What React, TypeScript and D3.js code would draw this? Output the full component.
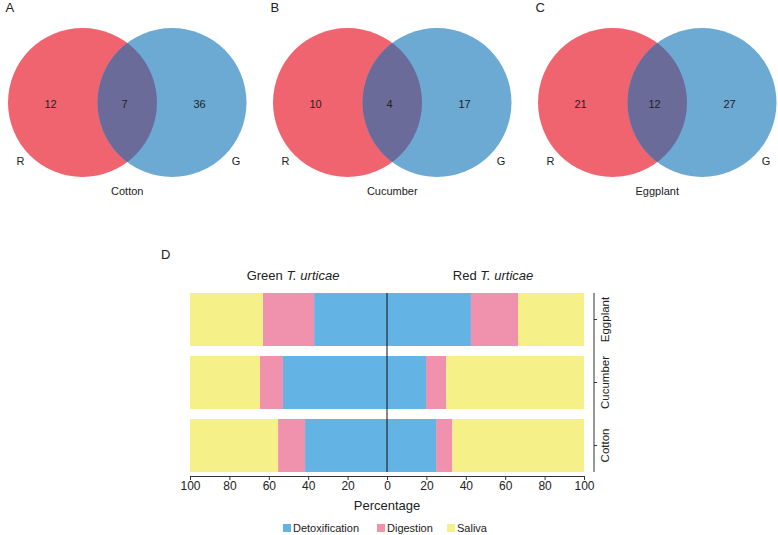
import * as d3 from "d3";
import { useRef, useEffect } from "react";

// Venn panels A-C
const plants = ["Cotton", "Cucumber", "Eggplant"];
const panelLetters = ["A", "B", "C"];
const redOnly = [12, 10, 21];
const shared = [7, 4, 12];
const greenOnly = [36, 17, 27];

// Panel D: percentage of genes in each category
const rows = ["Eggplant", "Cucumber", "Cotton"];
const categories = ["Detoxification", "Digestion", "Saliva"];
const greenPct = {
  Eggplant: [37, 26, 37],
  Cucumber: [52.8, 11.7, 35.5],
  Cotton: [41.6, 13.7, 44.7],
};
const redPct = {
  Eggplant: [42.6, 23.9, 33.5],
  Cucumber: [19.8, 10.2, 70],
  Cotton: [24.9, 8.3, 66.8],
};
const tickValues = [-100, -80, -60, -40, -20, 0, 20, 40, 60, 80, 100];

const catColor = d3.scaleOrdinal(categories, ["#63b3e4", "#f092ae", "#f5f087"]);
const font = "Liberation Sans, Arial, sans-serif";

function Venn({ i }) {
  const ox = d3.scaleLinear([0, 2], [82.5, 612.5])(i);
  const cy = 102.5;
  const r = 74.5;
  const bx = ox + 89.5;
  return (
    <g fontFamily={font} fill="#222">
      <defs>
        <clipPath id={"clipR" + i}>
          <circle cx={ox} cy={cy} r={r} />
        </clipPath>
      </defs>
      <circle cx={ox} cy={cy} r={r} fill="#f0646f" />
      <circle cx={bx} cy={cy} r={r} fill="#6caad3" />
      <circle cx={bx} cy={cy} r={r} fill="#6b6b99" clipPath={`url(#clipR${i})`} />
      <text x={ox - 77} y={12} fontSize={13}>{panelLetters[i]}</text>
      <g fontSize={11} textAnchor="middle" dominantBaseline="central">
        <text x={ox - 32} y={104}>{redOnly[i]}</text>
        <text x={ox + 42} y={104}>{shared[i]}</text>
        <text x={ox + 117} y={104}>{greenOnly[i]}</text>
        <text x={ox - 62} y={161}>R</text>
        <text x={bx + 64} y={161}>G</text>
        <text x={ox + 44.75} y={191}>{plants[i]}</text>
      </g>
    </g>
  );
}

export default function App() {
  const gx = useRef(null);
  const x = d3.scaleLinear([-100, 100], [190, 584]);
  const y = d3.scaleBand(rows, [288, 477]).paddingInner(0.159).paddingOuter(0.08);

  useEffect(() => {
    const g = d3.select(gx.current);
    g.call(d3.axisBottom(x).tickValues(tickValues).tickFormat((d) => String(Math.abs(d))).tickSize(4));
    g.select(".domain").attr("stroke", "#333");
    g.selectAll(".tick line").attr("stroke", "#333");
    g.selectAll(".tick text").attr("font-size", 12).attr("font-family", font).attr("fill", "#222").attr("dy", "0.55em");
  }, []);

  const segs = [];
  rows.forEach((row) => {
    let acc = 0;
    greenPct[row].forEach((v, k) => {
      segs.push({ key: "g" + row + k, x0: x(-(acc + v)), x1: x(-acc), row, cat: categories[k] });
      acc += v;
    });
    acc = 0;
    redPct[row].forEach((v, k) => {
      segs.push({ key: "r" + row + k, x0: x(acc), x1: x(acc + v), row, cat: categories[k] });
      acc += v;
    });
  });

  const legendX = [283, 377, 447];

  return (
    <svg width={778} height={535} style={{ position: "absolute", left: 0, top: 0 }}>
      <rect width={778} height={535} fill="#fff" />
      {plants.map((p, i) => (
        <Venn key={p} i={i} />
      ))}
      <g fontFamily={font} fill="#222">
        <text x={161} y={259} fontSize={13}>D</text>
        <text x={293} y={280} fontSize={13} textAnchor="middle">
          Green <tspan fontStyle="italic">T. urticae</tspan>
        </text>
        <text x={493} y={280} fontSize={13} textAnchor="middle">
          Red <tspan fontStyle="italic">T. urticae</tspan>
        </text>
        {segs.map((s) => (
          <rect key={s.key} x={s.x0} y={y(s.row)} width={s.x1 - s.x0} height={y.bandwidth()} fill={catColor(s.cat)} />
        ))}
        <line x1={x(0)} x2={x(0)} y1={y(rows[0])} y2={y(rows[2]) + y.bandwidth()} stroke="#111" strokeWidth={1} />
        <g ref={gx} transform="translate(0,476)" />
        <text x={x(0)} y={510} fontSize={13} textAnchor="middle">Percentage</text>
        <line x1={594} x2={594} y1={y(rows[0])} y2={y(rows[2]) + y.bandwidth()} stroke="#333" />
        {rows.map((row) => {
          const cy = y(row) + y.bandwidth() / 2;
          return (
            <g key={row}>
              <line x1={594} x2={597} y1={cy} y2={cy} stroke="#333" />
              <text transform={`translate(605,${cy}) rotate(-90)`} fontSize={11.5} textAnchor="middle" dominantBaseline="central">
                {row}
              </text>
            </g>
          );
        })}
        {categories.map((c, k) => (
          <g key={c}>
            <rect x={legendX[k]} y={524} width={8} height={8} fill={catColor(c)} />
            <text x={legendX[k] + 10} y={528} fontSize={11} dominantBaseline="central">{c}</text>
          </g>
        ))}
      </g>
    </svg>
  );
}
